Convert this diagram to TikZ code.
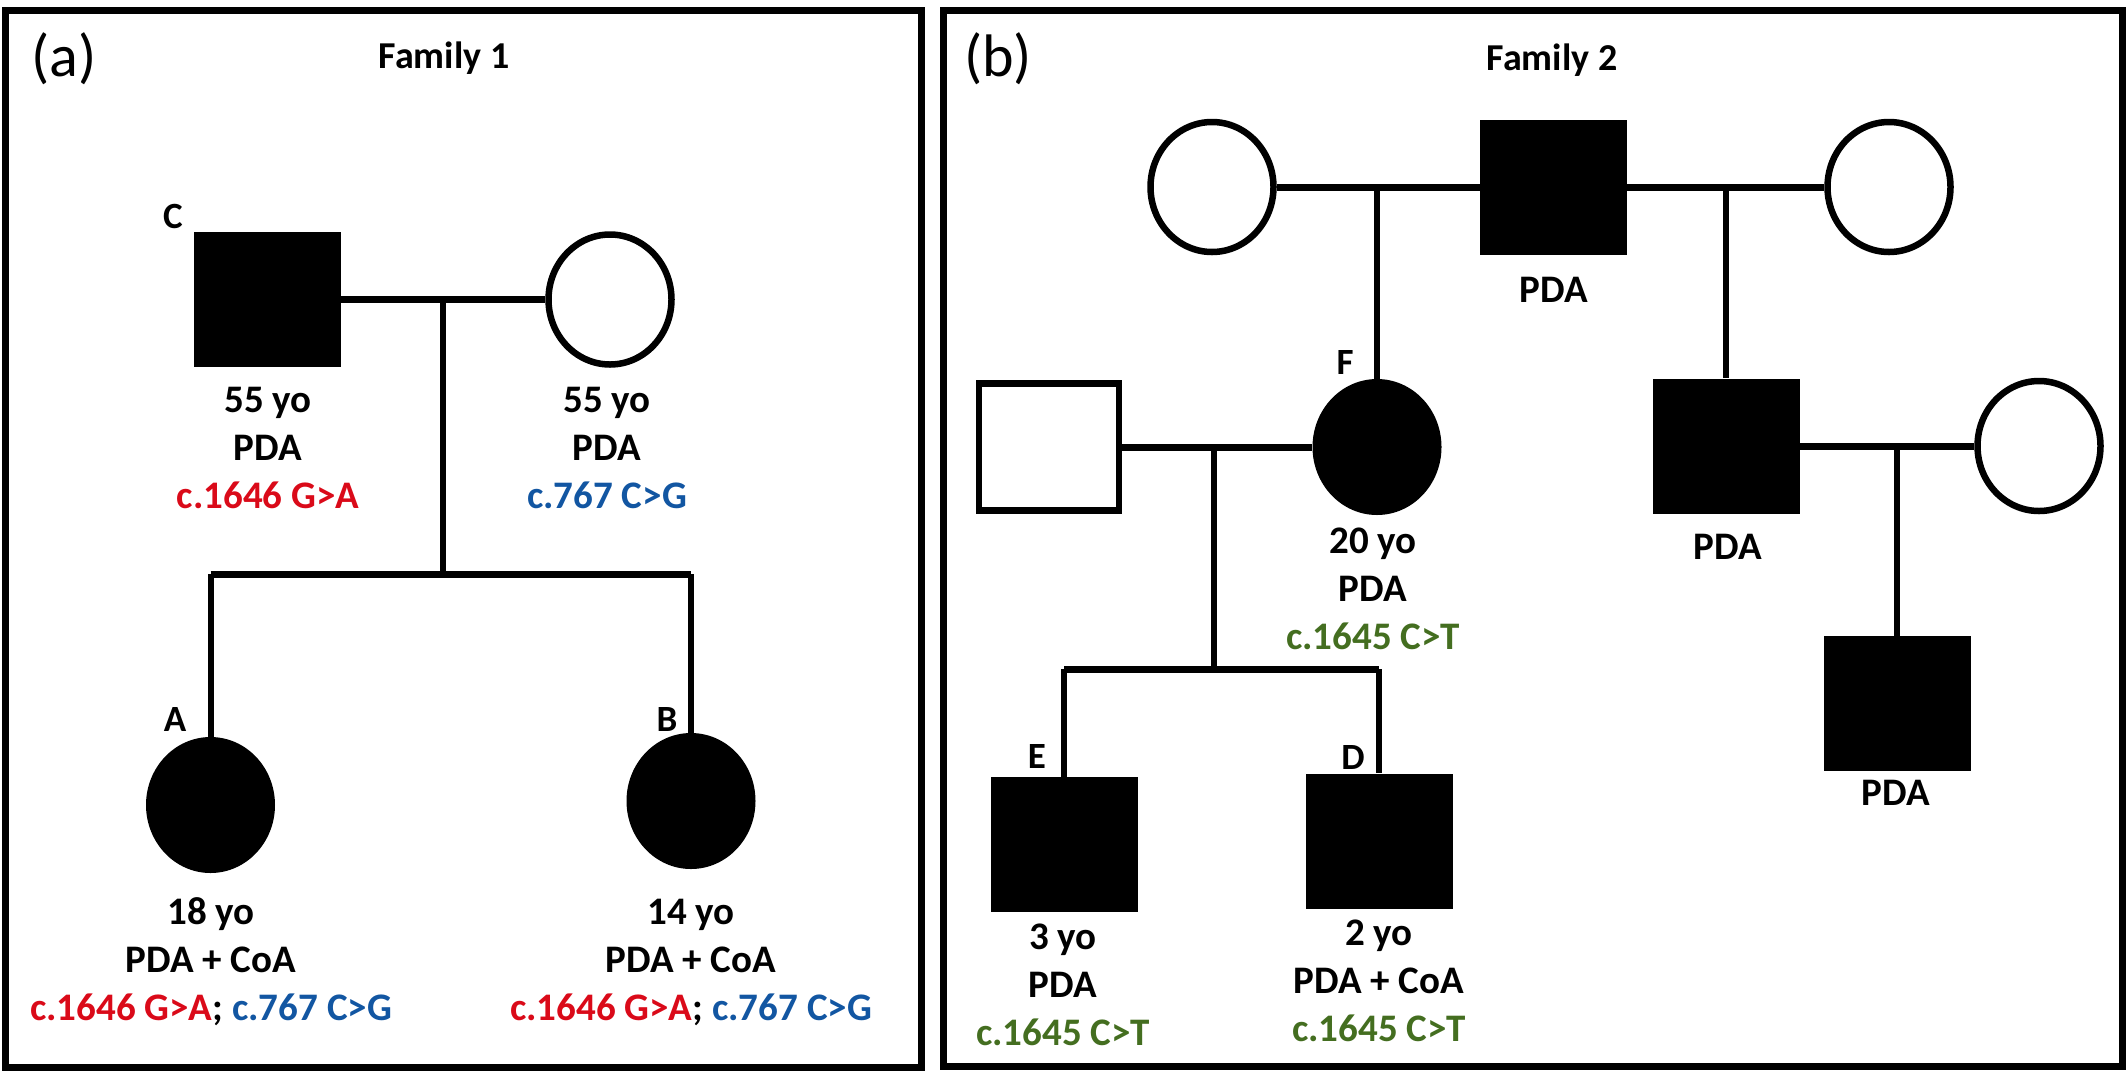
\documentclass[tikz,border=0pt]{standalone}
\usepackage{fontspec}
\setmainfont{Carlito}
\usetikzlibrary{shapes.geometric}
\definecolor{mred}{RGB}{218,10,25}
\definecolor{mblue}{RGB}{18,86,162}
\definecolor{mgreen}{RGB}{68,110,32}
\tikzset{
  frame/.style={draw=black, line width=7pt},
  mline/.style={draw=black, line width=7pt},
  dline/.style={draw=black, line width=6pt},
  affsq/.style={rectangle, fill=black, inner sep=0pt, minimum width=147pt, minimum height=135pt},
  unsq/.style={rectangle, draw=black, line width=6.5pt, fill=white, inner sep=0pt, minimum width=140pt, minimum height=127pt},
  affci/.style={ellipse, fill=black, inner sep=0pt, minimum width=129pt, minimum height=136pt},
  unci/.style={ellipse, draw=black, line width=6.5pt, fill=white, inner sep=0pt, minimum width=123pt, minimum height=130pt},
  lab/.style={font=\fontsize{39}{48}\selectfont\bfseries, align=center, inner sep=0pt},
  idl/.style={font=\fontsize{37}{44}\selectfont\bfseries, inner sep=0pt},
  ttl/.style={font=\fontsize{38}{46}\selectfont\bfseries, inner sep=0pt},
  pan/.style={font=\fontsize{60}{66}\selectfont, inner sep=0pt}
}
\begin{document}
\begin{tikzpicture}[x=1pt,y=-1pt]
\useasboundingbox (0,0) rectangle (2128,1077);
\fill[white] (0,0) rectangle (2128,1077);
% frames
\draw[frame] (5,10.7) rectangle (921,1067);
\draw[frame] (943,10.7) rectangle (2122,1066);

% ---------------- Panel (a) ----------------
\node[pan] (pa) at (64,59) {(a)};
\node[ttl] (t1) at (444,58) {Family 1};

\node[affsq] (C) at (267,299.5) {};
\node[unci] (M) at (610,299.5) {};
\node[affci] (A) at (210.5,805) {};
\node[affci] (B) at (691,801) {};
\coordinate (m1) at (443,299.5);
\coordinate (s1) at (443,574);

\draw[mline] (C.east) -- (M.west);
\draw[dline] (m1) -- (s1);
\draw[mline] (A |- s1) -- (B |- s1);
\draw[dline] (A |- s1) -- (A.north);
\draw[dline] (B |- s1) -- (B.north);

\node[idl] (lC) at (173,216) {C};
\node[idl] (lA) at (175,719) {A};
\node[idl] (lB) at (667,719) {B};

\node[lab] (tC) at (268,448) {55 yo\\PDA\\{\color{mred}c.1646 G>A}};
\node[lab] (tM) at (607,448) {55 yo\\PDA\\{\color{mblue}c.767 C>G}};
\node[lab] (tA) at (211,962) {18 yo\\PDA + CoA\\{\color{mred}c.1646 G>A}; {\color{mblue}c.767 C>G}};
\node[lab] (tB) at (691,962) {14 yo\\PDA + CoA\\{\color{mred}c.1646 G>A}; {\color{mblue}c.767 C>G}};

% ---------------- Panel (b) ----------------
\node[pan] (pb) at (998,59) {(b)};
\node[ttl] (t2) at (1552,60) {Family 2};

\node[unci] (G1) at (1212,187) {};
\node[affsq] (G2) at (1553.5,187) {};
\node[unci] (G3) at (1889,187) {};
\node[affci] (F) at (1377,447) {};
\node[unsq] (U) at (1049,447) {};
\node[affsq] (H) at (1726,446) {};
\node[unci] (W) at (2039,446) {};
\node[affsq] (E) at (1064,844.5) {};
\node[affsq] (D) at (1379,841) {};
\node[affsq] (S) at (1897,703.5) {};

\coordinate (m3) at (1214,447);
\coordinate (s3) at (1214,669);

\draw[mline] (G1.east) -- (G2.west);
\draw[mline] (G2.east) -- (G3.west);
\draw[dline] (F.north |- G1.east) -- (F.north);
\draw[dline] (H.north |- G2.east) -- (H.north);
\draw[mline] (U.east) -- (F.west);
\draw[dline] (m3) -- (s3);
\draw[mline] (E |- s3) -- (D |- s3);
\draw[dline] (E |- s3) -- (E.north);
\draw[dline] (D |- s3) -- (D.north);
\draw[mline] (H.east) -- (W.west);
\draw[dline] (S.north |- H.east) -- (S.north);

\node[idl] (lF) at (1345,362) {F};
\node[idl] (lE) at (1037,756) {E};
\node[idl] (lD) at (1353,757) {D};

\node[lab] (tG2) at (1554,290) {PDA};
\node[lab] (tH) at (1728,547) {PDA};
\node[lab] (tS) at (1896,793) {PDA};
\node[lab] (tF) at (1373,589) {20 yo\\PDA\\{\color{mgreen}c.1645 C>T}};
\node[lab] (tE) at (1063,985) {3 yo\\PDA\\{\color{mgreen}c.1645 C>T}};
\node[lab] (tD) at (1379,981) {2 yo\\PDA + CoA\\{\color{mgreen}c.1645 C>T}};
\end{tikzpicture}
\end{document}
